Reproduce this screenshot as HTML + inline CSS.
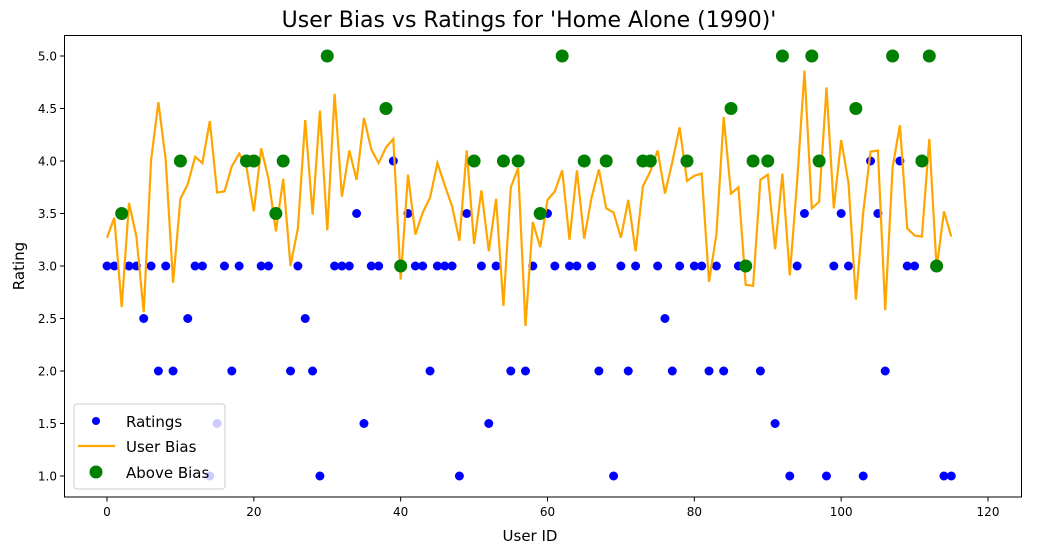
<!DOCTYPE html>
<html><head><meta charset="utf-8"><style>
html,body{margin:0;padding:0;background:#fff;}
svg{display:block;font-family:"DejaVu Sans","Liberation Sans",sans-serif;}
</style></head><body>
<svg id="chart" width="1062" height="557" viewBox="0 0 1062 557" xmlns="http://www.w3.org/2000/svg">
<rect width="1062" height="557" fill="#fff"/>
<text x="529" y="27" font-size="22" text-anchor="middle">User Bias vs Ratings for 'Home Alone (1990)'</text>
<text x="530" y="541" font-size="15" text-anchor="middle">User ID</text>
<text transform="translate(24,266) rotate(-90)" font-size="15" text-anchor="middle">Rating</text>
<g id="plot"></g>
<g id="xticks"></g>
<g id="yticks"></g>
<rect x="64.5" y="35.5" width="957" height="461.5" fill="none" stroke="#000" stroke-width="1"/>
<g>
<rect x="74" y="404" width="151" height="85" rx="3" fill="#fff" fill-opacity="0.8" stroke="#ccc"/>
<circle cx="96" cy="421" r="4" fill="#0000ff"/>
<text x="126" y="427" font-size="15">Ratings</text>
<line x1="78" y1="446" x2="115" y2="446" stroke="orange" stroke-width="2.2"/>
<text x="126" y="452" font-size="15">User Bias</text>
<circle cx="96" cy="472" r="6.5" fill="green"/>
<text x="126" y="478" font-size="15">Above Bias</text>
</g>
</svg>
<script>
const ratings=[3,3,3.5,3,3,2.5,3,2,3,2,4,2.5,3,3,1,1.5,3,2,3,4,4,3,3,3.5,4,2,3,2.5,2,1,5,3,3,3,3.5,1.5,3,3,4.5,4,3,3.5,3,3,2,3,3,3,1,3.5,4,3,1.5,3,4,2,4,2,3,3.5,3.5,3,5,3,3,4,3,2,4,1,3,2,3,4,4,3,2.5,2,3,4,3,3,2,3,2,4.5,3,3,4,2,4,1.5,5,1,3,3.5,5,4,1,3,3.5,3,4.5,1,4,3.5,2,5,4,3,3,4,5,3,1,1];
const bias=[3.27,3.46,2.61,3.6,3.28,2.56,4.01,4.56,4.01,2.84,3.64,3.78,4.04,3.98,4.38,3.7,3.71,3.95,4.07,3.94,3.52,4.12,3.83,3.33,3.83,3.0,3.36,4.39,3.49,4.48,3.34,4.64,3.66,4.1,3.82,4.41,4.11,3.98,4.13,4.21,2.87,3.87,3.3,3.51,3.65,3.98,3.77,3.57,3.24,4.1,3.21,3.72,3.14,3.64,2.62,3.75,3.93,2.43,3.42,3.18,3.63,3.71,3.91,3.25,3.91,3.26,3.65,3.92,3.55,3.51,3.27,3.63,3.14,3.76,3.9,4.1,3.69,3.99,4.32,3.81,3.86,3.88,2.85,3.3,4.42,3.69,3.75,2.82,2.81,3.82,3.87,3.16,3.88,2.91,3.8,4.86,3.55,3.61,4.7,3.55,4.2,3.79,2.68,3.51,4.09,4.1,2.58,3.94,4.34,3.36,3.29,3.28,4.21,2.98,3.52,3.28];
const xTicks=[0,20,40,60,80,100,120];
const yTicks=[1.0,1.5,2.0,2.5,3.0,3.5,4.0,4.5,5.0];
const NS='http://www.w3.org/2000/svg';
const X=v=>107+v*(988-107)/120;
const Y=v=>476-(v-1)*105;
function mk(t,a,p){const e=document.createElementNS(NS,t);for(const k in a)e.setAttribute(k,a[k]);p.appendChild(e);return e;}
const plot=document.getElementById('plot');
ratings.forEach((r,i)=>{const c=mk('circle',{cx:X(i),cy:Y(r),r:4.5,fill:'#0000ff'},plot);

});
const pts=bias.map((b,i)=>X(i).toFixed(1)+','+Y(b).toFixed(1)).join(' ');
const pl=mk('polyline',{points:pts,fill:'none',stroke:'orange','stroke-width':2.2,'stroke-linejoin':'miter'},plot);


ratings.forEach((r,i)=>{if(r>bias[i]){const c=mk('circle',{cx:X(i),cy:Y(r),r:6.5,fill:'green'},plot);

}});
const xg=document.getElementById('xticks');
xTicks.forEach(t=>{mk('line',{x1:X(t),x2:X(t),y1:497,y2:501.5,stroke:'#000'},xg);
const tx=mk('text',{x:X(t),y:516,'font-size':12,'text-anchor':'middle'},xg);tx.textContent=t;

});
const yg=document.getElementById('yticks');
yTicks.forEach(t=>{mk('line',{x1:60,x2:64.5,y1:Y(t),y2:Y(t),stroke:'#000'},yg);
const tx=mk('text',{x:57,y:Y(t)+4.5,'font-size':12,'text-anchor':'end'},yg);tx.textContent=t.toFixed(1);

});
</script>
</body></html>
